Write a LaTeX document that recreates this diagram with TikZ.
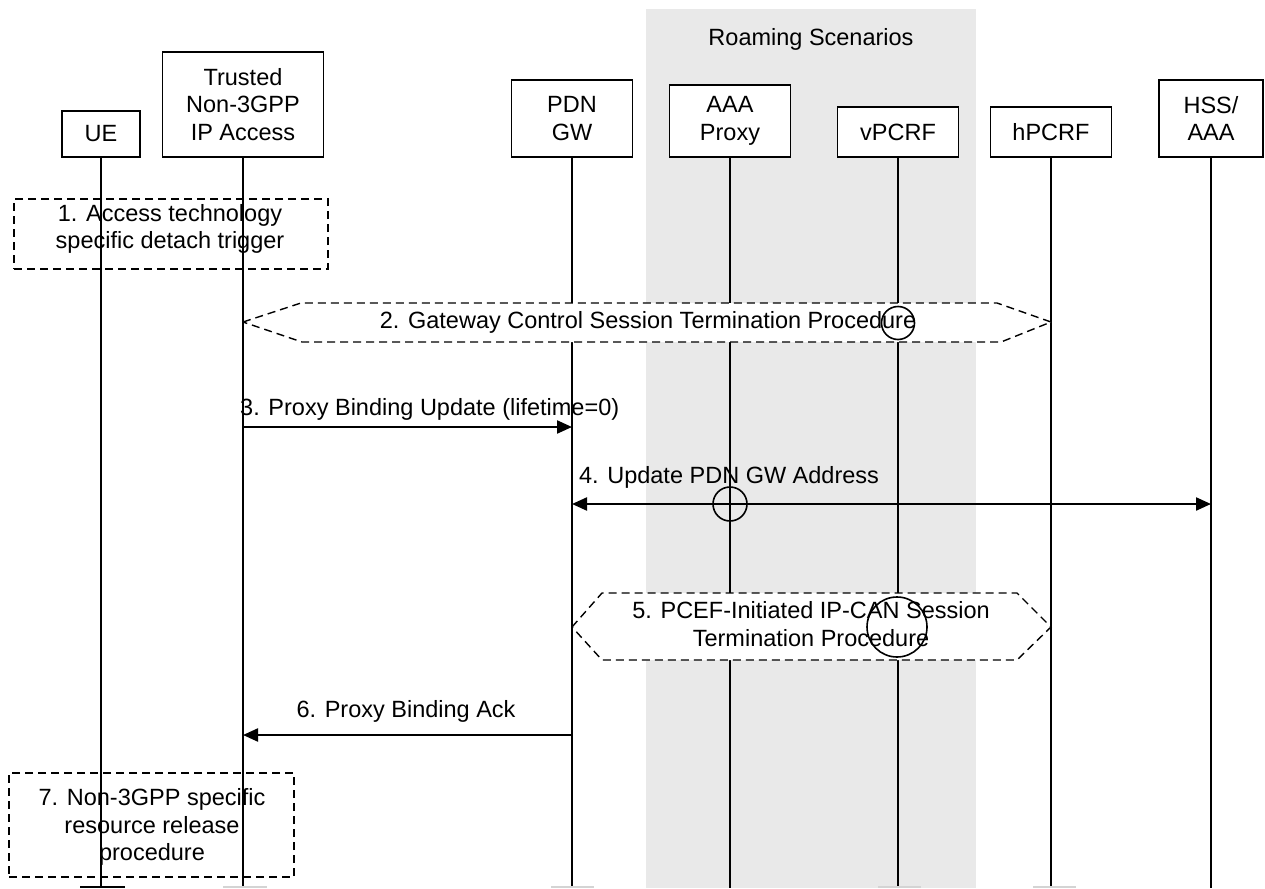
\documentclass[tikz,border=0pt]{standalone}
\usepackage{fontspec}
\setmainfont{Liberation Sans}
\usetikzlibrary{arrows.meta}
\definecolor{band}{HTML}{E9E9E9}
\definecolor{stub}{HTML}{D4D4D4}
\begin{document}
\begin{tikzpicture}[x=1pt,y=-1pt,
  txt/.style={font=\fontsize{23.5}{27.5}\selectfont, inner sep=0pt, align=center},
  entity/.style={txt, draw, line width=1.8pt, fill=white},
  life/.style={line width=1.8pt},
  dbox/.style={draw, line width=1.4pt, dash pattern=on 8pt off 5pt, inner sep=0pt},
  hexa/.style={draw, fill=white, line width=1.4pt, dash pattern=on 8pt off 5pt},
  msg/.style={line width=2.2pt, -{Triangle[length=15pt,width=13pt]}},
  dmsg/.style={line width=2.2pt, {Triangle[length=15pt,width=13pt]}-{Triangle[length=15pt,width=13pt]}},
  ring/.style={draw, line width=1.6pt, circle, inner sep=0pt},
  stubline/.style={line width=1.6pt},
]
\useasboundingbox (0,0) rectangle (1265,888);
\fill[band] (646,9) rectangle (976,888);
\node[txt, anchor=base] (roam) at (811,46) {Roaming Scenarios};

% entities
\node[entity, minimum width=78pt, minimum height=46pt] (ue) at (101,134) {UE};
\node[entity, minimum width=161pt, minimum height=105pt] (tn) at (243,104.5) {Trusted\\Non-3GPP\\IP Access};
\node[entity, minimum width=121pt, minimum height=77pt] (pgw) at (572,118.5) {PDN\\GW};
\node[entity, minimum width=121pt, minimum height=72pt] (aaa) at (730,121) {AAA\\Proxy};
\node[entity, minimum width=121pt, minimum height=50pt] (vp) at (898,132) {vPCRF};
\node[entity, minimum width=121pt, minimum height=50pt] (hp) at (1051,132) {hPCRF};
\node[entity, minimum width=104pt, minimum height=77pt] (hss) at (1211,118.5) {HSS/\\AAA};

% lifeline ends
\coordinate (ueB) at (101,888);
\coordinate (tnB) at (243,888);
\coordinate (pgwB) at (572,888);
\coordinate (aaaB) at (730,888);
\coordinate (vpB) at (898,888);
\coordinate (hpB) at (1051,888);
\coordinate (hssB) at (1211,888);
\foreach \n in {ue,tn,pgw,aaa,vp,hp,hss} {\draw[life] (\n.south) -- (\n B);}

% step 1
\node[dbox, minimum width=314pt, minimum height=70pt] (s1) at (171,234) {};
\node[txt] (s1t) at (170,229) {1. Access technology\\specific detach trigger};

% step 2
\draw[hexa] (243,322) -- (301,303) -- (997,303) -- (1051,322) -- (1001,342) -- (302,342) -- cycle;
\node[txt, anchor=base] (s2t) at (648,328) {2. Gateway Control Session Termination Procedure};
\node[ring, minimum size=33pt] (c2) at (898,323) {};

% step 3
\coordinate (m3a) at (243,427);
\coordinate (m3b) at (572,427);
\draw[msg] (m3a) -- (m3b);
\node[txt, anchor=base west] (m3t) at (240,415) {3. Proxy Binding Update (lifetime=0)};

% step 4
\coordinate (m4a) at (572,504);
\coordinate (m4b) at (1211,504);
\draw[dmsg] (m4a) -- (m4b);
\node[txt, anchor=base] (m4t) at (729,483) {4. Update PDN GW Address};
\node[ring, minimum size=34pt] (c4) at (730,504) {};

% step 5
\draw[hexa] (572,627) -- (602,593) -- (1017,593) -- (1051,627) -- (1017,660) -- (602,660) -- cycle;
\node[txt] (s5t) at (811,624) {5. PCEF-Initiated IP-CAN Session\\Termination Procedure};
\node[ring, minimum size=60pt] (c5) at (897,627) {};

% step 6
\coordinate (m6a) at (572,735);
\coordinate (m6b) at (243,735);
\draw[msg] (m6a) -- (m6b);
\node[txt, anchor=base] (m6t) at (406,717) {6. Proxy Binding Ack};

% step 7
\node[dbox, minimum width=285pt, minimum height=104pt] (s7) at (151.5,825) {};
\node[txt] (s7t) at (152,827) {7. Non-3GPP specific\\resource release\\procedure};

% bottom stubs
\coordinate (st1a) at (80,887); \coordinate (st1b) at (125,887);
\draw[stubline] (st1a) -- (st1b);
\coordinate (st2a) at (223,887); \coordinate (st2b) at (267,887);
\coordinate (st3a) at (551,887); \coordinate (st3b) at (594,887);
\coordinate (st4a) at (878,887); \coordinate (st4b) at (921,887);
\coordinate (st5a) at (1033,887); \coordinate (st5b) at (1076,887);
\draw[stubline, stub] (st2a) -- (st2b);
\draw[stubline, stub] (st3a) -- (st3b);
\draw[stubline, stub] (st4a) -- (st4b);
\draw[stubline, stub] (st5a) -- (st5b);
\end{tikzpicture}
\end{document}
